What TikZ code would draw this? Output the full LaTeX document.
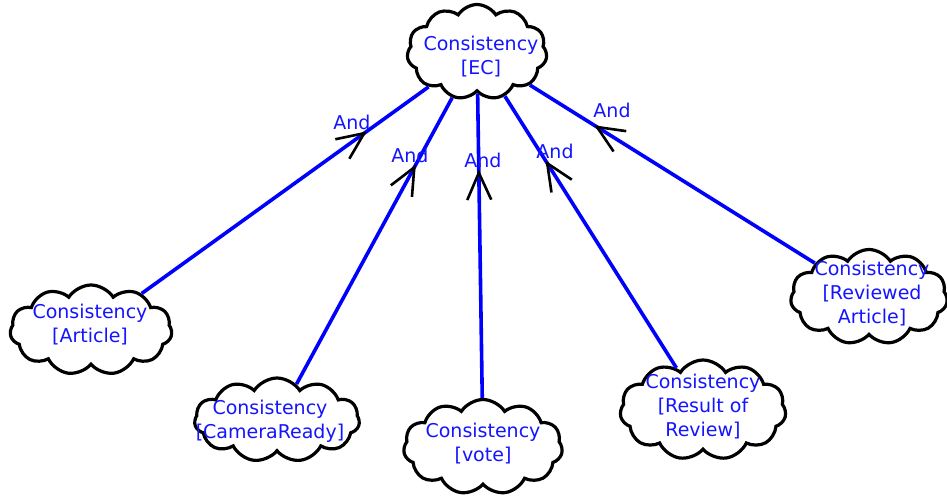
\documentclass[tikz,border=0pt]{standalone}
\usepackage{fontspec}
\setmainfont{DejaVu Sans}
\usetikzlibrary{shapes.symbols,arrows.meta,decorations.markings}
\definecolor{linkblue}{RGB}{0,0,255}
\definecolor{textblue}{RGB}{20,20,255}
\begin{document}
\begin{tikzpicture}[x=1pt,y=-1pt,
  goal/.style={cloud, cloud puffs=11, cloud puff arc=115, cloud ignores aspect,
    draw=black, line width=3.2pt, fill=white, inner sep=0pt},
  caption/.style={text=textblue, font=\fontsize{19}{24}\selectfont, align=center, inner sep=0pt},
  andlbl/.style={text=textblue, font=\fontsize{19}{22}\selectfont, inner sep=0pt},
  andlink/.style={draw=linkblue, line width=3.6pt, postaction={decorate},
    decoration={markings, mark=at position -76pt with
      {\arrow[black, line width=2.6pt]{Straight Barb[length=27pt, width=24pt]}}}}
]
\useasboundingbox (0,0) rectangle (947,500);

% goal clouds
\node[goal, minimum width=140pt, minimum height=95pt] (ec)  at (477,52)  {};
\node[goal, minimum width=162pt, minimum height=90pt] (art) at (91,330)  {};
\node[goal, minimum width=165pt, minimum height=84pt] (cam) at (277,420) {};
\node[goal, minimum width=159pt, minimum height=95pt] (vot) at (483,447) {};
\node[goal, minimum width=166pt, minimum height=100pt] (res) at (703,410) {};
\node[goal, minimum width=157pt, minimum height=95pt] (rev) at (869,297) {};

% cloud captions
\node[caption] (ect) at (481,57)  {Consistency\\{[EC]}};
\node[caption] (artt) at (90,325) {Consistency\\{[Article]}};
\node[caption] (camt) at (270,421) {Consistency\\{[CameraReady]}};
\node[caption] (vott) at (483,444) {Consistency\\{[vote]}};
\node[caption] (rest) at (703,407) {Consistency\\{[Result of}\\Review]};
\node[caption] (revt) at (872,294) {Consistency\\{[Reviewed}\\Article]};

% AND-refinement links
\draw[andlink] (art) -- (ec);
\draw[andlink] (cam) -- (ec);
\draw[andlink] (vot) -- (ec);
\draw[andlink] (res) -- (ec);
\draw[andlink] (rev) -- (ec);

% link labels
\node[andlbl] (a1) at (352,122) {And};
\node[andlbl] (a2) at (410,155) {And};
\node[andlbl] (a3) at (483,160) {And};
\node[andlbl] (a4) at (555,151) {And};
\node[andlbl] (a5) at (612,110) {And};
\end{tikzpicture}
\end{document}
